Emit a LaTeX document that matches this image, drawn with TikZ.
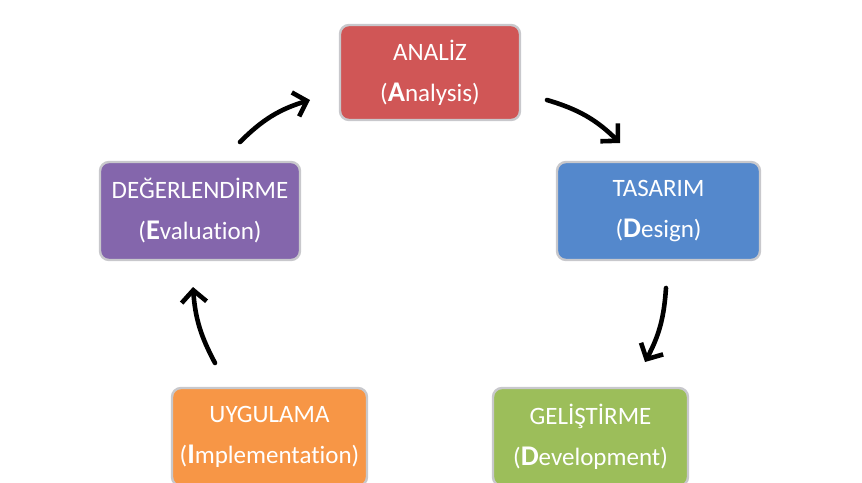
\documentclass[tikz,border=0pt]{standalone}
\usepackage{fontspec}
\setmainfont{Carlito}[Ligatures=NoCommon]
\usetikzlibrary{arrows.meta}
\definecolor{cred}{RGB}{208,86,86}
\definecolor{cblue}{RGB}{84,136,204}
\definecolor{cgreen}{RGB}{156,190,90}
\definecolor{corange}{RGB}{247,150,70}
\definecolor{cpurple}{RGB}{132,102,172}
\definecolor{cedge}{RGB}{200,200,204}
\tikzset{
  phase/.style={rectangle, rounded corners=9pt, draw=cedge, line width=2.4pt,
    minimum width=#1, text=white, align=center,
    font=\fontsize{25}{41}\selectfont},
  cyclearrow/.style={line width=4.6pt, line cap=round, black,
    -{Straight Barb[length=12pt,width=25pt,line width=4.6pt]}}
}
\newcommand{\bigini}[1]{{\fontsize{28.5}{41}\selectfont\textbf{#1}}}
\begin{document}
\begin{tikzpicture}[x=1pt,y=-1pt]
\useasboundingbox (0,0) rectangle (862,482);
\clip (0,0) rectangle (862,482);
\node[phase=180pt, minimum height=95pt, fill=cred] (an) at (430,72.5) {ANALİZ\\(\bigini{A}nalysis)};
\node[phase=203pt, minimum height=98pt, fill=cblue] (ta) at (658.5,211) {TASARIM\\(\bigini{D}esign)};
\node[phase=195pt, minimum height=98pt, fill=cgreen] (ge) at (590.5,437) {GELİŞTİRME\\(\bigini{D}evelopment)};
\node[phase=195pt, minimum height=98pt, fill=corange] (uy) at (269.5,437) {UYGULAMA\\(\bigini{I}mplementation)};
\node[phase=200pt, minimum height=98pt, fill=cpurple] (de) at (200,211) {DEĞERLENDİRME\\(\bigini{E}valuation)};
\coordinate (a1s) at (240,142); \coordinate (a1e) at (310,100);
\coordinate (a2s) at (547,100); \coordinate (a2e) at (620,143);
\coordinate (a3s) at (666,288); \coordinate (a3e) at (645,362);
\coordinate (a4s) at (215,363); \coordinate (a4e) at (193,287);
\draw[cyclearrow] (a1s) to[bend left=14] (a1e);
\draw[cyclearrow] (a2s) to[bend left=14] (a2e);
\draw[cyclearrow] (a3s) to[bend left=12] (a3e);
\draw[cyclearrow] (a4s) to[bend left=12] (a4e);
\end{tikzpicture}
\end{document}
